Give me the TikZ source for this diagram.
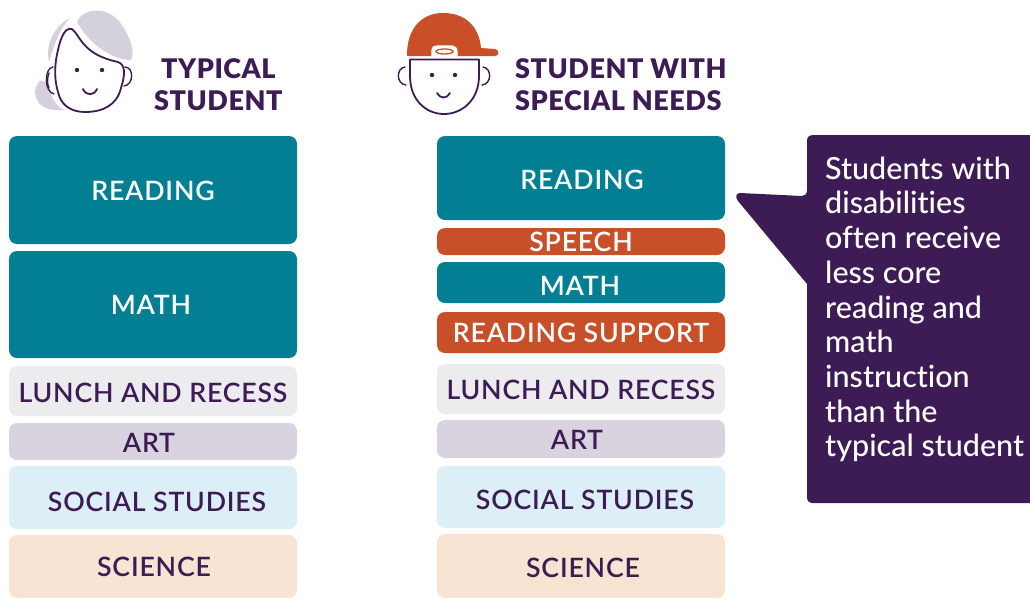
\documentclass[tikz,border=0pt]{standalone}
\usepackage{fontspec}
\setmainfont{Lato Medium}[Ligatures=NoCommon]
\newfontfamily\boxfont[LetterSpace=3]{Lato Semibold}
\newfontfamily\headfont[LetterSpace=2]{Lato Black}
\definecolor{teal1}{HTML}{037F94}
\definecolor{orng}{HTML}{C84F27}
\definecolor{purp}{HTML}{3D1C55}
\definecolor{lunchc}{HTML}{ECEBEE}
\definecolor{artc}{HTML}{D8D3DF}
\definecolor{socc}{HTML}{DCEEF6}
\definecolor{scic}{HTML}{F8E4D2}
\definecolor{hairc}{HTML}{D5D1DC}
\tikzset{
 slot/.style={rounded corners=8pt,draw=none},
 lbl/.style={font=\boxfont\fontsize{26.7}{26.7}\selectfont,anchor=center,inner sep=0pt},
 dark/.style={text=purp},
 light/.style={text=white},
 headtxt/.style={font=\headfont\fontsize{27}{32}\selectfont,text=purp,inner sep=0pt,align=left},
 faceline/.style={draw=purp,line width=1.8pt,line cap=round,line join=round},
}
\newcommand{\slotbox}[9]{%
 \fill[slot,#6] (#2,#3) rectangle (#4,#5);
 \node[lbl,#7] (#1) at (#8) {#9};}
\begin{document}
\begin{tikzpicture}[x=1pt,y=-1pt]
\useasboundingbox (0,0) rectangle (1030,600);
% typical student face
\fill[hairc] (77,22) .. controls (84,6) and (110,7) .. (121,24) .. controls (131,38) and (135,52) .. (131,60) .. controls (115,60) and (92,48) .. (77,22) -- cycle;
\fill[hairc] (70,18) .. controls (54,26) and (45,45) .. (49,62) .. controls (53,50) and (58,30) .. (70,18) -- cycle;
\fill[hairc] (38,83) .. controls (30,95) and (38,113) .. (64,110) .. controls (52,104) and (50,90) .. (47,84) .. controls (44,80) and (40,79) .. (38,83) -- cycle;
\draw[faceline] (69,29) .. controls (62,30) and (58,48) .. (56,60) .. controls (54,75) and (56,85) .. (58,92) .. controls (61,106) and (72,112) .. (85,112) .. controls (103,112) and (117,105) .. (121,88) .. controls (125,75) and (126,65) .. (118,62) .. controls (100,58) and (90,52) .. (82,42) .. controls (76,34) and (73,27) .. (69,29) -- cycle;
\draw[faceline,line width=1.4pt] (53,67) .. controls (44,68) and (44,92) .. (54,94);
\draw[faceline,line width=1.4pt] (49,73) .. controls (47,78) and (47,84) .. (49,88);
\draw[faceline,line width=1.4pt] (125,67) .. controls (134,67) and (134,85) .. (124,86);
\fill[purp] (77,70) circle (2.2) (102,70) circle (2.2);
\draw[faceline] (83,89) .. controls (86,96) and (94,96) .. (97,89);
% special needs face
\fill[orng] (407,55) .. controls (407,28) and (422,13) .. (443,13) .. controls (465,13) and (479,26) .. (481,48) -- (495,49) .. controls (500,50) and (499,56) .. (495,56) -- (407,56) -- cycle;
\draw[faceline,fill=white,line width=1.2pt,draw=white] (432,57) -- (432,50) .. controls (432,47) and (434,46) .. (437,46) -- (452,46) .. controls (455,46) and (457,48) .. (457,52) -- (457,57) -- cycle;
\draw[draw=orng,line width=1.3pt] (444.5,51.5) ellipse (8.5 and 2.5);
\draw[faceline] (410,59.5) -- (479,59.5) -- (479,76) .. controls (479,100) and (462,114) .. (444,114) .. controls (426,114) and (410,100) .. (410,76) -- cycle;
\draw[faceline,line width=1.4pt] (405,67) .. controls (396,68) and (396,84) .. (406,85);
\draw[faceline,line width=1.4pt] (483,67) .. controls (492,68) and (492,84) .. (482,85);
\fill[purp] (432,75) circle (2.2) (455,75) circle (2.2);
\draw[faceline] (437,93) .. controls (440,99) and (447,99) .. (450,93);
% headings
\node[headtxt,anchor=west] (th1) at (161,69) {TYPICAL};
\node[headtxt,anchor=west] (th2) at (154,101) {STUDENT};
\node[headtxt,anchor=west] (sh1) at (515,69) {STUDENT WITH};
\node[headtxt,anchor=west] (sh2) at (515,101) {SPECIAL NEEDS};
% left column
\slotbox{lr}{9}{136}{297}{244}{fill=teal1}{light}{153,191}{READING}
\slotbox{lm}{9}{251}{297}{358}{fill=teal1}{light}{151,305}{MATH}
\slotbox{ll}{9}{366}{297}{416}{fill=lunchc}{dark}{153,393}{LUNCH AND RECESS}
\slotbox{la}{9}{423}{297}{460}{fill=artc}{dark}{149,443}{ART}
\slotbox{ls}{9}{466}{297}{529}{fill=socc}{dark}{157,502}{SOCIAL STUDIES}
\slotbox{lc}{9}{535}{297}{598}{fill=scic}{dark}{154,567}{SCIENCE}
% right column
\slotbox{rr}{437}{136}{725}{220}{fill=teal1}{light}{582,180}{READING}
\slotbox{rp}{437}{228}{725}{255}{fill=orng}{light}{581,242}{SPEECH}
\slotbox{rm}{437}{262}{725}{303}{fill=teal1}{light}{580,286}{MATH}
\slotbox{rs}{437}{312}{725}{353}{fill=orng}{light}{581,333}{READING SUPPORT}
\slotbox{rl}{437}{364}{725}{414}{fill=lunchc}{dark}{581,390}{LUNCH AND RECESS}
\slotbox{ra}{437}{420}{725}{458}{fill=artc}{dark}{577,440}{ART}
\slotbox{ro}{437}{466}{725}{528}{fill=socc}{dark}{585,500}{SOCIAL STUDIES}
\slotbox{rc}{437}{534}{725}{598}{fill=scic}{dark}{583,568}{SCIENCE}
% callout
\fill[purp] (1030,135) -- (814,135) .. controls (809,135) and (807,137) .. (807,141) -- (807,190) .. controls (807,194) and (805,196) .. (802,196) -- (740,193) .. controls (736,193) and (735,197) .. (738,201) -- (807,284) -- (807,497) .. controls (807,501) and (809,503) .. (813,503) -- (1030,503) -- cycle;
\node[anchor=north west,inner sep=0pt,text=white,align=left,font=\fontsize{30.5}{34.7}\selectfont] (note) at (825,156.5) {Students with\\disabilities\\often receive\\less core\\reading and\\math\\instruction\\than the\\typical student};
\end{tikzpicture}
\end{document}
